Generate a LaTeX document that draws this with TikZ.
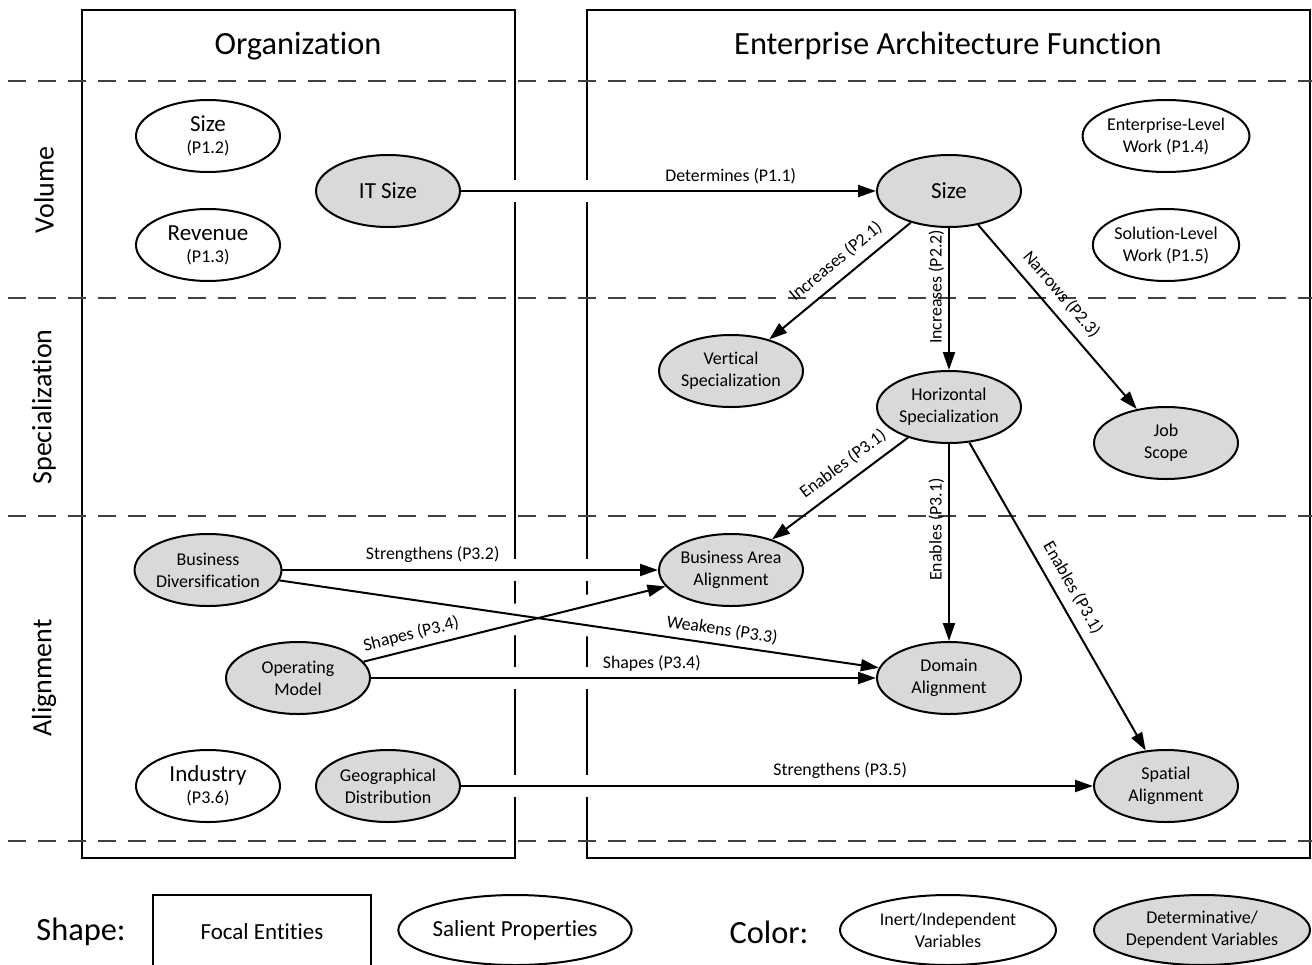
\documentclass[tikz,border=0pt]{standalone}
\usepackage{fontspec}
\setmainfont{Carlito}[Ligatures=NoCommon]
\usetikzlibrary{positioning,arrows.meta,shapes.geometric}

\newcommand{\fs}[2]{\fontsize{#1}{#2}\selectfont}

\begin{document}
\begin{tikzpicture}[
    x=0.5pt, y=-0.5pt,
    prop/.style={ellipse, draw, line width=1pt, fill=white, align=center,
                 minimum width=72pt, minimum height=36pt, inner sep=0pt,
                 font=\fs{9}{11}},
    dvar/.style={prop, fill=black!15},
    big/.style={font=\fs{11.5}{13}},
    lbl/.style={font=\fs{8.9}{10}, inner sep=2pt, above=1pt},
    slbl/.style={lbl, above=2.5pt},
    ar/.style={-{Triangle[length=9pt,width=6pt]}, line width=1pt},
    band/.style={dash pattern=on 9pt off 6pt, line width=0.8pt, black!75},
    focal/.style={draw, line width=1pt},
    gap/.style={white, line width=11pt},
    rowlbl/.style={font=\fs{14}{16}, rotate=90},
    title/.style={font=\fs{16.2}{18}},
]
\useasboundingbox (0,0) rectangle (1312,964);
\clip (0,0) rectangle (1312,964);

% --- the two focal entities and the three bands ---
\draw[focal] (82,10) rectangle (515,858);
\draw[focal] (587,10) rectangle (1310,858);
\foreach \y in {81,298,516,841}
  \draw[band] (8,\y) -- (1312,\y);
\node[title] (orgtitle) at (298,46) {Organization};
\node[title] (eatitle)  at (948,46) {Enterprise Architecture Function};
\node[rowlbl] (volume) at (44,190) {Volume};
\node[rowlbl] (special) at (44,407) {Specialization};
\node[rowlbl] (align) at (44,678) {Alignment};

% --- organization properties ---
\node[prop] (orgsize) at (208,136) {{\fs{11.5}{12}Size}\\[0pt]{\fs{9}{11}(P1.2)}};
\node[prop] (revenue) at (208,245) {{\fs{11.5}{12}Revenue}\\[0pt]{\fs{9}{11}(P1.3)}};
\node[dvar, big] (itsize) at (388,191) {IT Size};
\node[dvar] (bizdiv) at (208,570) {Business\\Diversification};
\node[dvar] (opmodel) at (298,678) {Operating\\Model};
\node[prop] (industry) at (208,786) {{\fs{11.5}{12}Industry}\\[0pt]{\fs{9}{11}(P3.6)}};
\node[dvar] (geodist) at (388,786) {Geographical\\Distribution};

% --- EA function properties ---
\node[dvar, big] (easize) at (949,191) {Size};
\node[prop] (entwork) at (1166,136) {Enterprise-Level\\Work (P1.4)};
\node[prop] (solwork) at (1166,245) {Solution-Level\\Work (P1.5)};
\node[dvar] (vspec) at (731,371) {Vertical\\Specialization};
\node[dvar] (hspec) at (949,407) {Horizontal\\Specialization};
\node[dvar] (jobscope) at (1166,443) {Job\\Scope};
\node[dvar] (baa) at (731,570) {Business Area\\Alignment};
\node[dvar] (domain) at (949,678) {Domain\\Alignment};
\node[dvar] (spatial) at (1166,786) {Spatial\\Alignment};

% --- gaps in the box edges where links cross ---
\begin{scope}
  \clip (505,0) rectangle (525,964) (577,0) rectangle (597,964);
  \foreach \a/\b in {itsize/easize, bizdiv/baa, bizdiv/domain,
                     opmodel/baa, opmodel/domain, geodist/spatial}
    \draw[gap] (\a) -- (\b);
\end{scope}

% --- propositions ---
\draw[ar] (itsize) -- node[lbl, pos=.65] {Determines (P1.1)} (easize);
\draw[ar] (easize) -- node[slbl, sloped, pos=.45] {Increases (P2.1)} (vspec);
\draw[ar] (easize) -- node[slbl, rotate=90, pos=.45] {Increases (P2.2)} (hspec);
\draw[ar] (easize) -- node[slbl, sloped, pos=.44] {Narrows (P2.3)} (jobscope);
\draw[ar] (hspec) -- node[slbl, sloped, pos=.4] {Enables (P3.1)} (baa);
\draw[ar] (hspec) -- node[slbl, rotate=90, pos=.46] {Enables (P3.1)} (domain);
\draw[ar] (hspec) -- node[slbl, sloped, pos=.5] {Enables (P3.1)} (spatial);
\draw[ar] (bizdiv) -- node[lbl, pos=.4] {Strengthens (P3.2)} (baa);
\draw[ar] (bizdiv) -- node[lbl, sloped, pos=.735] {Weakens (P3.3)} (domain);
\draw[ar] (opmodel) -- node[lbl, sloped, pos=.17] {Shapes (P3.4)} (baa);
\draw[ar] (opmodel) -- node[lbl, pos=.556] {Shapes (P3.4)} (domain);
\draw[ar] (geodist) -- node[lbl, pos=.6] {Strengthens (P3.5)} (spatial);

% --- legend ---
\node[title] (shapekey) at (81,932) {Shape:};
\node[focal, minimum width=109pt, minimum height=37pt, font=\fs{11.5}{13}]
  (focalkey) at (262,932) {Focal Entities};
\node[prop, minimum width=109pt, minimum height=35pt, font=\fs{11.5}{13}]
  (salkey) at (515,930) {Salient Properties};
\node[title] (colorkey) at (769,932) {Color:};
\node[prop, minimum width=108pt, minimum height=35pt, font=\fs{9}{11}]
  (inertkey) at (948,930) {Inert/Independent\\Variables};
\node[dvar, minimum width=108pt, minimum height=35pt, font=\fs{9}{11}]
  (detkey) at (1202,930) {Determinative/\\Dependent Variables};
\end{tikzpicture}
\end{document}
